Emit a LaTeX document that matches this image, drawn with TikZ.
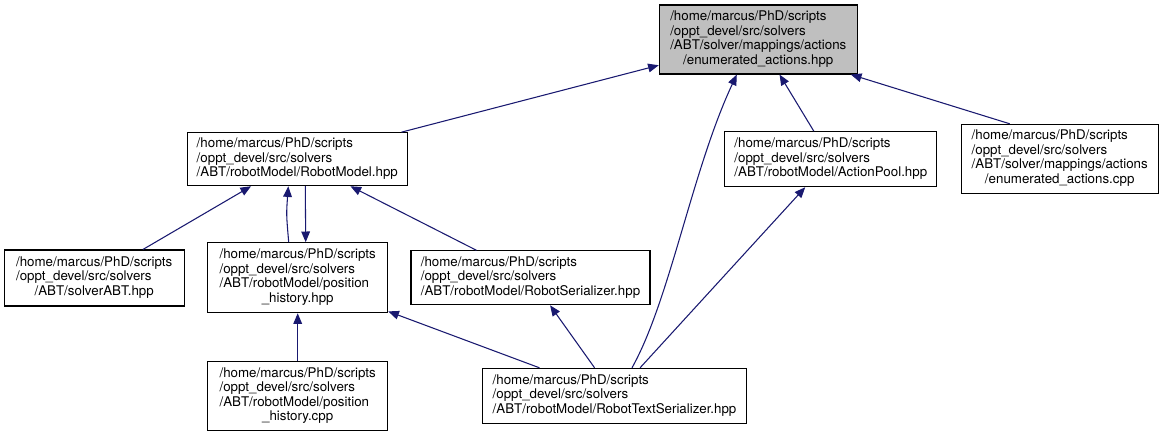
\documentclass[tikz,border=0pt]{standalone}
\usepackage{fontspec}
\setmainfont{TeX Gyre Heros}
\usetikzlibrary{arrows.meta,calc}
\newlength\px
\setlength\px{0.75pt}
\definecolor{edgeblue}{RGB}{25,25,112}
\newcommand{\lastline}[1]{\multicolumn{1}{@{}c@{}}{#1}}
\tikzset{
  file/.style={draw, line width=0.8pt, inner sep=0pt, font=\fontsize{10}{10.9}\selectfont},
  dep/.style={draw=edgeblue, line width=0.8pt, {Triangle[length=8pt,width=6.5pt]}-},
}
\begin{document}
\begin{tikzpicture}[x=\px, y=-\px]
\useasboundingbox (0,0) rectangle (1164,437);
% files
\node[file, fill=black!25, minimum width=198\px, minimum height=69\px] (top) at (758.3,39.5)
  {\begin{tabular}{@{}l@{}}/home/marcus/PhD/scripts\\/oppt\_devel/src/solvers\\/ABT/solver/mappings/actions\\\lastline{/enumerated\_actions.hpp}\end{tabular}};
\node[file, minimum width=220\px, minimum height=53\px] (rm) at (297.3,159.2)
  {\begin{tabular}{@{}l@{}}/home/marcus/PhD/scripts\\/oppt\_devel/src/solvers\\\lastline{/ABT/robotModel/RobotModel.hpp}\end{tabular}};
\node[file, minimum width=211.7\px, minimum height=55\px] (ap) at (830.8,159.2)
  {\begin{tabular}{@{}l@{}}/home/marcus/PhD/scripts\\/oppt\_devel/src/solvers\\\lastline{/ABT/robotModel/ActionPool.hpp}\end{tabular}};
\node[file, minimum width=197.3\px, minimum height=69\px] (cpp) at (1059.7,158.8)
  {\begin{tabular}{@{}l@{}}/home/marcus/PhD/scripts\\/oppt\_devel/src/solvers\\/ABT/solver/mappings/actions\\\lastline{/enumerated\_actions.cpp}\end{tabular}};
\node[file, minimum width=179.7\px, minimum height=56\px] (solver) at (94.2,278)
  {\begin{tabular}{@{}l@{}}/home/marcus/PhD/scripts\\/oppt\_devel/src/solvers\\\lastline{/ABT/solverABT.hpp}\end{tabular}};
\node[file, minimum width=180\px, minimum height=70\px] (ph) at (297.7,277.7)
  {\begin{tabular}{@{}l@{}}/home/marcus/PhD/scripts\\/oppt\_devel/src/solvers\\/ABT/robotModel/position\\\lastline{\_history.hpp}\end{tabular}};
\node[file, minimum width=239\px, minimum height=54\px] (rs) at (530.5,277.8)
  {\begin{tabular}{@{}l@{}}/home/marcus/PhD/scripts\\/oppt\_devel/src/solvers\\\lastline{/ABT/robotModel/RobotSerializer.hpp}\end{tabular}};
\node[file, minimum width=180\px, minimum height=69\px] (phcpp) at (297.7,396)
  {\begin{tabular}{@{}l@{}}/home/marcus/PhD/scripts\\/oppt\_devel/src/solvers\\/ABT/robotModel/position\\\lastline{\_history.cpp}\end{tabular}};
\node[file, minimum width=264.4\px, minimum height=55\px] (rts) at (614.5,395.8)
  {\begin{tabular}{@{}l@{}}/home/marcus/PhD/scripts\\/oppt\_devel/src/solvers\\\lastline{/ABT/robotModel/RobotTextSerializer.hpp}\end{tabular}};
% includes
\draw[dep] (top) -- (rm);
\draw[dep] ($(top.south)+(-21.5,0)$) .. controls (692,170) and (670,300) .. ($(rts.north)+(17.5,0)$);
\draw[dep] (top) -- (ap);
\draw[dep] ($(top.south east)+(-7,0)$) -- ($(cpp.north)+(-50,0)$);
\draw[dep] (rm) -- (solver);
\draw[dep] ($(rm.south)+(-9,0)$) .. controls ($(rm.south)+(-11,28)$) .. ($(ph.north)+(-9,0)$);
\draw[dep] ($(ph.north)+(8,0)$) -- ($(rm.south)+(8,0)$);
\draw[dep] (rm) -- (rs);
\draw[dep] (ap) -- (rts);
\draw[dep] (ph) -- (phcpp);
\draw[dep] (ph) -- (rts);
\draw[dep] (rs) -- (rts);
\end{tikzpicture}
\end{document}
